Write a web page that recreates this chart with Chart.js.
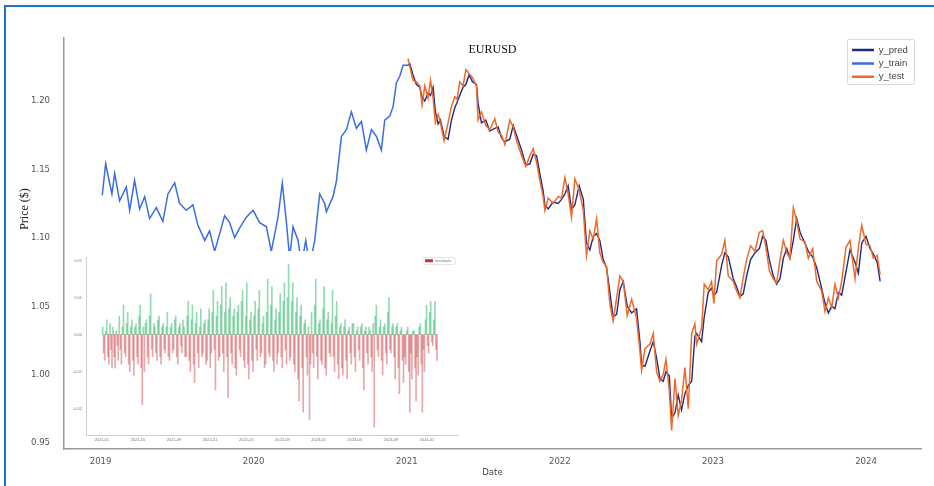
<!DOCTYPE html>
<html>
<head>
<meta charset="utf-8">
<title>EURUSD</title>
<script src="https://cdn.jsdelivr.net/npm/chart.js@4.4.1/dist/chart.umd.min.js"></script>
<style>
  html, body { margin: 0; padding: 0; background: #fff; }
  #wrap { position: relative; width: 934px; height: 486px; overflow: hidden; }
  #frame { position: absolute; left: 4px; top: 5px; right: -4px; bottom: -4px; border-top: 2px solid #1b74c9; border-left: 2px solid #1b74c9; }
  #main { position: absolute; left: 0; top: 0; }
  #inset { position: absolute; left: 65px; top: 251px; background: #fff; }
</style>
</head>
<body>
<div id="wrap">
  <div id="frame"></div>
  <canvas id="main" width="934" height="486"></canvas>
  <canvas id="inset" width="395" height="196"></canvas>
</div>
<script>
// main chart: dates as fractional years
const trainX = [2019.011, 2019.033, 2019.059, 2019.074, 2019.092, 2019.124, 2019.168, 2019.190, 2019.222, 2019.255,
  2019.288, 2019.320, 2019.364, 2019.407, 2019.440, 2019.484, 2019.516, 2019.560, 2019.603, 2019.636,
  2019.680, 2019.712, 2019.745, 2019.778, 2019.810, 2019.843, 2019.876, 2019.908, 2019.952, 2019.996,
  2020.039, 2020.083, 2020.115, 2020.159, 2020.187, 2020.214, 2020.235, 2020.257, 2020.290, 2020.312,
  2020.340, 2020.366, 2020.399, 2020.431, 2020.464, 2020.475, 2020.518, 2020.540, 2020.573, 2020.606,
  2020.638, 2020.671, 2020.704, 2020.736, 2020.769, 2020.802, 2020.834, 2020.856, 2020.889, 2020.911,
  2020.932, 2020.954, 2020.976, 2021.008]
const trainY = [1.131, 1.154, 1.140, 1.132, 1.147, 1.127, 1.137, 1.120, 1.142, 1.121,
  1.130, 1.114, 1.122, 1.112, 1.132, 1.140, 1.125, 1.120, 1.124, 1.109,
  1.098, 1.105, 1.090, 1.103, 1.116, 1.111, 1.100, 1.107, 1.115, 1.120,
  1.111, 1.108, 1.090, 1.115, 1.140, 1.111, 1.085, 1.108, 1.098, 1.080,
  1.098, 1.080, 1.098, 1.132, 1.125, 1.119, 1.130, 1.141, 1.174, 1.179,
  1.192, 1.180, 1.185, 1.164, 1.179, 1.174, 1.164, 1.186, 1.189, 1.196,
  1.213, 1.218, 1.226, 1.226]

const testX = [2021.008, 2021.020, 2021.041, 2021.063, 2021.085, 2021.100, 2021.118, 2021.139, 2021.155, 2021.172,
  2021.187, 2021.205, 2021.220, 2021.244, 2021.270, 2021.292, 2021.314, 2021.329, 2021.346, 2021.368,
  2021.386, 2021.407, 2021.429, 2021.455, 2021.466, 2021.488, 2021.516, 2021.542, 2021.575, 2021.597,
  2021.619, 2021.641, 2021.673, 2021.695, 2021.717, 2021.750, 2021.778, 2021.804, 2021.826, 2021.848,
  2021.869, 2021.891, 2021.902, 2021.924, 2021.956, 2021.989, 2022.011, 2022.033, 2022.054, 2022.076,
  2022.098, 2022.126, 2022.153, 2022.174, 2022.196, 2022.218, 2022.240, 2022.261, 2022.283, 2022.305,
  2022.327, 2022.348, 2022.371, 2022.392, 2022.414, 2022.440, 2022.469, 2022.501, 2022.523, 2022.534,
  2022.556, 2022.588, 2022.610, 2022.632, 2022.654, 2022.675, 2022.693, 2022.715, 2022.730, 2022.752,
  2022.773, 2022.795, 2022.817, 2022.839, 2022.861, 2022.882, 2022.893, 2022.926, 2022.943, 2022.969,
  2022.991, 2023.006, 2023.024, 2023.057, 2023.078, 2023.100, 2023.133, 2023.155, 2023.176, 2023.198,
  2023.220, 2023.246, 2023.275, 2023.303, 2023.325, 2023.346, 2023.368, 2023.394, 2023.416, 2023.438,
  2023.460, 2023.482, 2023.503, 2023.525, 2023.547, 2023.569, 2023.601, 2023.623, 2023.651, 2023.678,
  2023.710, 2023.732, 2023.754, 2023.776, 2023.797, 2023.819, 2023.841, 2023.869, 2023.895, 2023.928,
  2023.950, 2023.972, 2024.000, 2024.026, 2024.048, 2024.073, 2024.092]
const testY = [1.231, 1.225, 1.215, 1.214, 1.211, 1.197, 1.211, 1.202, 1.215, 1.202,
  1.184, 1.190, 1.184, 1.171, 1.184, 1.196, 1.203, 1.201, 1.214, 1.211,
  1.223, 1.220, 1.217, 1.211, 1.186, 1.192, 1.182, 1.179, 1.187, 1.177,
  1.175, 1.168, 1.186, 1.181, 1.171, 1.160, 1.152, 1.160, 1.165, 1.155,
  1.142, 1.130, 1.120, 1.129, 1.125, 1.130, 1.129, 1.144, 1.132, 1.115,
  1.143, 1.135, 1.120, 1.087, 1.105, 1.099, 1.114, 1.089, 1.082, 1.079,
  1.051, 1.039, 1.056, 1.072, 1.068, 1.043, 1.055, 1.041, 1.017, 1.003,
  1.019, 1.022, 1.030, 1.002, 0.995, 1.000, 1.011, 0.988, 0.959, 0.997,
  0.970, 0.981, 1.005, 0.975, 1.030, 1.037, 1.022, 1.034, 1.066, 1.062,
  1.068, 1.052, 1.083, 1.088, 1.098, 1.072, 1.068, 1.061, 1.056, 1.071,
  1.084, 1.094, 1.090, 1.104, 1.105, 1.093, 1.076, 1.070, 1.067, 1.084,
  1.098, 1.089, 1.085, 1.122, 1.112, 1.099, 1.097, 1.085, 1.092, 1.068,
  1.061, 1.046, 1.056, 1.049, 1.066, 1.056, 1.068, 1.093, 1.098, 1.070,
  1.093, 1.109, 1.095, 1.094, 1.085, 1.087, 1.073]
const predY = [1.226, 1.227, 1.219, 1.212, 1.210, 1.203, 1.200, 1.206, 1.204, 1.210,
  1.192, 1.183, 1.186, 1.174, 1.172, 1.186, 1.195, 1.199, 1.204, 1.210,
  1.212, 1.219, 1.214, 1.212, 1.198, 1.184, 1.186, 1.178, 1.180, 1.181,
  1.173, 1.170, 1.172, 1.182, 1.175, 1.164, 1.153, 1.154, 1.161, 1.160,
  1.147, 1.134, 1.124, 1.121, 1.126, 1.125, 1.128, 1.132, 1.138, 1.121,
  1.124, 1.138, 1.128, 1.096, 1.091, 1.101, 1.103, 1.098, 1.084, 1.078,
  1.060, 1.042, 1.044, 1.062, 1.068, 1.050, 1.045, 1.048, 1.024, 1.007,
  1.006, 1.017, 1.024, 1.012, 0.997, 0.995, 1.002, 0.999, 0.968, 0.972,
  0.985, 0.974, 0.986, 0.992, 0.995, 1.028, 1.030, 1.024, 1.042, 1.060,
  1.063, 1.058, 1.060, 1.080, 1.089, 1.086, 1.070, 1.064, 1.057, 1.059,
  1.072, 1.084, 1.089, 1.092, 1.101, 1.098, 1.084, 1.072, 1.066, 1.070,
  1.085, 1.092, 1.085, 1.098, 1.114, 1.104, 1.096, 1.090, 1.086, 1.078,
  1.063, 1.052, 1.045, 1.050, 1.048, 1.060, 1.058, 1.075, 1.091, 1.082,
  1.074, 1.096, 1.101, 1.092, 1.088, 1.082, 1.068]

const yTicks = [0.95, 1.00, 1.05, 1.10, 1.15, 1.20]
const xTicks = [2019, 2020, 2021, 2022, 2023, 2024]

// inset: residuals, evenly spaced from start to end
const residuals = [
  0.002, -0.005, -0.007, 0.001, 0.004, -0.006, -0.008, 0.003, -0.004, -0.009, 0.002, -0.006, -0.009, 0.001, -0.003, -0.007, 0.005, -0.004, -0.008, 0.002,
  0.008, -0.005, -0.006, 0.003, 0.006, -0.008, -0.010, 0.002, 0.004, -0.007, -0.011, 0.002, 0.003, -0.006, -0.008, 0.005, 0.008, -0.009, -0.019, 0.002,
  -0.010, 0.003, 0.004, -0.006, -0.008, 0.005, 0.011, -0.004, -0.006, 0.003, 0.002, -0.005, -0.007, 0.004, 0.005, -0.006, -0.008, 0.002, 0.003, -0.004,
  -0.005, 0.002, 0.006, -0.006, -0.007, 0.002, 0.003, -0.005, -0.004, 0.004, 0.005, -0.006, -0.008, 0.002, 0.003, -0.003, -0.005, 0.004, 0.002, -0.006,
  -0.006, 0.005, 0.009, -0.007, -0.010, 0.004, 0.008, -0.008, -0.013, 0.003, 0.006, -0.005, -0.009, 0.002, 0.007, -0.006, -0.005, 0.003, 0.004, -0.008,
  -0.007, 0.004, 0.007, -0.009, -0.005, 0.006, 0.012, -0.004, -0.015, 0.005, 0.009, -0.007, -0.006, 0.008, 0.013, -0.005, -0.010, 0.006, 0.014, -0.006,
  -0.017, 0.007, 0.010, -0.005, -0.008, 0.005, 0.007, -0.009, -0.011, 0.006, 0.008, -0.004, -0.006, 0.009, 0.012, -0.007, -0.009, 0.005, 0.014, -0.008,
  -0.012, 0.004, 0.006, -0.007, -0.010, 0.005, 0.009, -0.004, -0.007, 0.007, 0.012, -0.006, -0.005, 0.003, 0.005, -0.009, -0.008, 0.006, 0.015, -0.005,
  -0.006, 0.008, 0.013, -0.007, -0.010, 0.004, 0.007, -0.008, -0.005, 0.006, 0.011, -0.006, -0.009, 0.009, 0.014, -0.004, -0.008, 0.010, 0.019, -0.007,
  -0.006, 0.009, 0.014, -0.008, -0.010, 0.006, 0.010, -0.012, -0.018, 0.005, 0.008, -0.009, -0.021, 0.003, 0.004, -0.006, -0.011, 0.002, -0.023, -0.008,
  0.006, -0.005, -0.009, 0.008, 0.015, -0.006, -0.012, 0.003, 0.004, -0.007, -0.008, 0.007, 0.013, -0.009, -0.011, 0.004, 0.006, -0.005, -0.006, 0.003,
  0.012, -0.006, -0.010, 0.005, 0.009, -0.008, -0.012, 0.002, 0.003, -0.009, -0.011, 0.002, 0.004, -0.007, -0.012, 0.001, 0.002, -0.005, -0.008, 0.003,
  0.003, -0.006, -0.010, 0.001, 0.002, -0.004, -0.007, 0.002, 0.003, -0.009, -0.015, 0.001, 0.002, -0.005, -0.008, 0.002, 0.001, -0.006, -0.010, 0.003,
  -0.025, 0.005, 0.008, -0.004, -0.006, 0.002, 0.004, -0.007, -0.011, 0.002, 0.003, -0.005, -0.008, 0.006, 0.010, -0.004, -0.005, 0.002, 0.003, -0.006,
  -0.012, 0.002, 0.003, -0.009, -0.016, 0.001, 0.002, -0.007, -0.013, -0.006, -0.008, 0.001, 0.002, -0.010, -0.021, -0.005, -0.012, 0.001, 0.001, -0.009,
  -0.018, -0.006, -0.011, 0.002, 0.003, -0.008, -0.021, -0.004, -0.010, 0.004, 0.008, -0.003, -0.005, 0.006, 0.009, -0.002, -0.003, 0.004, 0.009, -0.004, -0.007]
const residualStart = 2021.008
const residualEnd = 2024.092
const residualTicks = ['2021-01', '2021-05', '2021-09', '2022-01', '2022-05', '2022-09', '2023-01', '2023-05', '2023-09', '2024-01']
const residualYTicks = [-0.02, -0.01, 0.00, 0.01, 0.02]

const narrow = "'Liberation Sans Narrow', 'Arial Narrow', 'DejaVu Sans Condensed', Arial, sans-serif"
const serif = "'Liberation Serif', 'Times New Roman', serif"

const toPoints = (xs, ys) => xs.map((x, i) => ({ x: x, y: ys[i] }))
const toYear = (t) => Number(t.slice(0, 4)) + (Number(t.slice(5)) - 1) / 12

// put a chartArea legend at a fixed spot and draw a frame round it
const legendSpot = {
  id: 'legendSpot',
  afterLayout(chart, args, opts) {
    if (opts.x === undefined) return
    const lg = chart.legend
    lg.left = opts.x
    lg.top = opts.y
    lg.right = opts.x + opts.w
    lg.bottom = chart.height
    lg.width = opts.w
    lg.height = chart.height - opts.y
  },
  afterDraw(chart, args, opts) {
    if (opts.bx === undefined) return
    const c = chart.ctx
    c.save()
    c.strokeStyle = opts.border
    c.lineWidth = 1
    c.beginPath()
    if (c.roundRect) c.roundRect(opts.bx, opts.by, opts.bw, opts.bh, 2)
    else c.rect(opts.bx, opts.by, opts.bw, opts.bh)
    c.stroke()
    c.restore()
  }
}

// y axis title, placed off-centre like the original
const sideLabel = {
  id: 'sideLabel',
  afterDraw(chart, args, opts) {
    if (!opts.text) return
    const c = chart.ctx
    c.save()
    c.translate(opts.x, opts.y)
    c.rotate(-Math.PI / 2)
    c.font = opts.font
    c.fillStyle = opts.color
    c.textAlign = 'center'
    c.textBaseline = 'middle'
    c.fillText(opts.text, 0, 0)
    c.restore()
  }
}

const seriesColors = { y_pred: '#232a7c', y_train: '#3a6ee0', y_test: '#f0692a' }

new Chart(document.getElementById('main'), {
  type: 'line',
  data: {
    datasets: [
      { label: 'y_pred', data: toPoints(testX, predY), borderColor: seriesColors.y_pred, borderWidth: 1.4, order: 2 },
      { label: 'y_train', data: toPoints(trainX, trainY), borderColor: seriesColors.y_train, borderWidth: 1.5, order: 1 },
      { label: 'y_test', data: toPoints(testX, testY), borderColor: seriesColors.y_test, borderWidth: 1.5, order: 0 }
    ]
  },
  options: {
    responsive: false,
    animation: false,
    events: [],
    elements: { point: { radius: 0 }, line: { tension: 0, fill: false } },
    layout: { padding: { left: 0, right: 13, top: 0, bottom: 0 } },
    scales: {
      x: {
        type: 'linear',
        min: 2018.761,
        max: 2024.359,
        grid: { display: false, drawTicks: false },
        border: { display: true, color: '#9a9a9a', width: 1.5 },
        afterBuildTicks: (s) => { s.ticks = xTicks.map((v) => ({ value: v })) },
        ticks: { padding: 7, color: '#555', font: { family: narrow, size: 9.5 }, maxRotation: 0, autoSkip: false, callback: (v) => String(v) },
        title: { display: true, text: 'Date', color: '#444', font: { family: narrow, size: 9.5 }, padding: { top: 0, bottom: 8 } },
        afterFit: (s) => { s.height = 37 }
      },
      y: {
        min: 0.9455,
        max: 1.246,
        grid: { display: false, drawTicks: false },
        border: { display: true, color: '#9a9a9a', width: 1.5 },
        afterBuildTicks: (s) => { s.ticks = yTicks.map((v) => ({ value: v })) },
        ticks: { padding: 14, color: '#555', font: { family: narrow, size: 9.5 }, callback: (v) => v.toFixed(2) },
        afterFit: (s) => { s.width = 64 }
      }
    },
    plugins: {
      title: {
        display: true,
        text: 'EURUSD',
        fullSize: false,
        color: '#111',
        font: { family: serif, size: 12, weight: 'normal' },
        padding: { top: 43, bottom: -19.4 }
      },
      legend: {
        position: 'chartArea',
        align: 'start',
        labels: {
          usePointStyle: true,
          pointStyle: 'line',
          pointStyleWidth: 22,
          padding: 3.9,
          color: '#444',
          font: { family: "'Liberation Sans', Arial, sans-serif", size: 9.5 },
          generateLabels: (chart) => chart.data.datasets.map((d, i) => ({
            text: d.label,
            strokeStyle: d.borderColor,
            fillStyle: d.borderColor,
            fontColor: '#444',
            lineWidth: 2.5,
            pointStyle: 'line',
            hidden: false,
            datasetIndex: i
          }))
        }
      },
      legendSpot: { x: 848.1, y: 41.4, w: 66, bx: 847.5, by: 39.5, bw: 67, bh: 45, border: '#d9d9d9' },
      sideLabel: { text: 'Price ($)', x: 25, y: 209, font: '12px ' + serif, color: '#222' },
      tooltip: { enabled: false }
    }
  },
  plugins: [legendSpot, sideLabel]
})

const residualStep = (residualEnd - residualStart) / (residuals.length - 1)

new Chart(document.getElementById('inset'), {
  type: 'bar',
  data: {
    datasets: [{
      label: 'residuals',
      data: residuals.map((v, i) => ({ x: residualStart + i * residualStep, y: v })),
      backgroundColor: residuals.map((v) => (v >= 0 ? 'rgba(60,185,115,0.55)' : 'rgba(210,80,85,0.5)')),
      borderWidth: 0,
      barThickness: 1
    }]
  },
  options: {
    responsive: false,
    animation: false,
    events: [],
    layout: { padding: { left: 0, right: 2, top: 6, bottom: 0 } },
    scales: {
      x: {
        type: 'linear',
        min: 2020.855,
        max: 2024.286,
        offset: false,
        grid: { display: false, drawTicks: false },
        border: { display: true, color: '#cfcfcf', width: 1 },
        afterBuildTicks: (s) => { s.ticks = residualTicks.map((t) => ({ value: toYear(t) })) },
        ticks: { padding: 2.5, color: '#777', font: { size: 4 }, maxRotation: 0, autoSkip: false, callback: (v, i) => residualTicks[i] },
        afterFit: (s) => { s.height = 12 }
      },
      y: {
        min: -0.0272,
        max: 0.0209,
        grid: { display: false, drawTicks: false },
        border: { display: true, color: '#cfcfcf', width: 1 },
        afterBuildTicks: (s) => { s.ticks = residualYTicks.map((v) => ({ value: v })) },
        ticks: { padding: 4, color: '#777', font: { size: 4 }, callback: (v) => v.toFixed(2) },
        afterFit: (s) => { s.width = 21 }
      }
    },
    plugins: {
      legend: {
        position: 'chartArea',
        align: 'start',
        labels: {
          boxWidth: 8,
          boxHeight: 3,
          padding: 2,
          color: '#777',
          font: { size: 4 },
          generateLabels: () => [{
            text: 'residuals',
            fillStyle: '#c8303a',
            strokeStyle: '#c8303a',
            fontColor: '#777',
            lineWidth: 0,
            hidden: false,
            datasetIndex: 0
          }]
        }
      },
      legendSpot: { x: 358, y: 5.7, w: 40, bx: 357.5, by: 6.5, bw: 33, bh: 7, border: '#e6e6e6' },
      tooltip: { enabled: false }
    }
  },
  plugins: [legendSpot]
})
</script>
</body>
</html>
